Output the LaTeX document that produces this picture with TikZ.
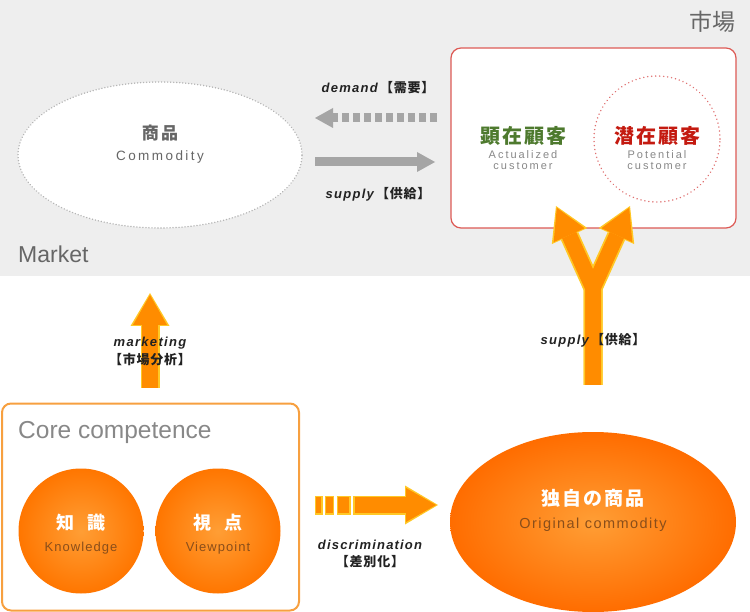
\documentclass[tikz,border=0pt]{standalone}
\usepackage{fontspec}
\setmainfont{Liberation Sans}
\newfontfamily\jp{Noto Sans CJK JP}
\usetikzlibrary{shapes.geometric,arrows.meta,positioning}

\definecolor{bggray}{HTML}{EEEEEE}
\definecolor{txtgray}{HTML}{666666}
\definecolor{lightgray}{HTML}{888888}
\definecolor{dotgray}{HTML}{B5B5B5}
\definecolor{arrgray}{HTML}{A5A5A5}
\definecolor{boxred}{HTML}{DD5A55}
\definecolor{dotred}{HTML}{E07070}
\definecolor{actgreen}{HTML}{4E7A2E}
\definecolor{potred}{HTML}{C41A10}
\definecolor{corebox}{HTML}{F7A040}
\definecolor{arrorange}{HTML}{FF8C00}
\definecolor{rimyellow}{HTML}{FFC826}
\definecolor{ballin}{HTML}{FF9E35}
\definecolor{ballout}{HTML}{FF7600}
\definecolor{engbrown}{HTML}{8A4E1A}
\definecolor{lbltext}{HTML}{222222}

\newcommand{\enjp}[2]{{\bfseries\itshape\addfontfeatures{LetterSpace=10}#1}\,{\jp\bfseries\fontsize{13}{13}\selectfont\addfontfeatures{LetterSpace=6}#2}}

\begin{document}
\begin{tikzpicture}[
    x=1pt, y=-1pt,
    zone/.style={font=\fontsize{23}{23}\selectfont, text=txtgray, inner sep=0pt},
    grayjp/.style={font=\jp\bfseries\fontsize{17}{17}\selectfont\addfontfeatures{LetterSpace=12}, text=txtgray, inner sep=0pt},
    grayen/.style={font=\fontsize{13.5}{13.5}\selectfont\addfontfeatures{LetterSpace=18}, text=txtgray, inner sep=0pt},
    custjp/.style={font=\jp\bfseries\fontsize{20}{20}\selectfont\addfontfeatures{LetterSpace=10}, inner sep=0pt},
    custen/.style={font=\fontsize{11}{10.5}\selectfont\addfontfeatures{LetterSpace=18}, text=lightgray, align=center, inner sep=0pt},
    whitejp/.style={font=\jp\bfseries\fontsize{18}{18}\selectfont\addfontfeatures{LetterSpace=10}, text=white, inner sep=0pt},
    brownen/.style={font=\fontsize{13}{13}\selectfont\addfontfeatures{LetterSpace=8}, text=engbrown, inner sep=0pt},
    lbl/.style={font=\fontsize{13}{13}\selectfont, text=lbltext, inner sep=0pt},
    lbljp/.style={font=\jp\bfseries\fontsize{13}{13}\selectfont\addfontfeatures{LetterSpace=6}, text=lbltext, inner sep=0pt},
    ball/.style={circle, minimum size=125pt, inner sep=0pt, shading=radial, inner color=ballin, outer color=ballout},
    graybar/.style={draw=arrgray, line width=9pt, -{Triangle[length=18pt,width=20pt,line width=0pt]}},
    rimarrow/.style={draw=rimyellow, line width=19pt, -{Triangle[length=33pt,width=39pt,line width=0pt]}},
    bodyarrow/.style={draw=arrorange, line width=15.5pt, shorten >=2pt, -{Triangle[length=30pt,width=34pt,line width=0pt]}}
]
\useasboundingbox (0,0) rectangle (750,612);

% Market zone
\fill[bggray] (0,0) rectangle (750,276);
\node[zone, font=\jp\fontsize{23}{23}\selectfont] (market_jp) at (712,22) {市場};
\node[zone, anchor=west] (market_en) at (18,254) {Market};

% Commodity
\node[ellipse, draw=dotgray, fill=white, line width=1.6pt, line cap=round, dash pattern=on 0.01pt off 3pt,
      minimum width=284pt, minimum height=146pt] (commodity) at (160,155) {};
\node[grayjp] (commodity_jp) at (160,133) {商品};
\node[grayen, below=9pt of commodity_jp] (commodity_en) {Commodity};

% Customers
\node[rectangle, draw=boxred, fill=white, line width=1.2pt, rounded corners=10pt,
      minimum width=285pt, minimum height=180pt] (customers) at (593.5,138) {};
\node[circle, draw=dotred, line width=1.6pt, line cap=round, dash pattern=on 0.01pt off 4pt,
      minimum size=126pt] (potential) at (657,139) {};
\node[custjp, text=actgreen] (actual_jp) at (523,136) {顕在顧客};
\node[custen, below=5pt of actual_jp] (actual_en) {Actualized\\customer};
\node[custjp, text=potred] (potential_jp) at (657,136) {潜在顧客};
\node[custen, below=5pt of potential_jp] (potential_en) {Potential\\customer};

% demand / supply
\coordinate (dem_from) at (437,118);
\coordinate (dem_to) at (315,118);
\coordinate (sup_from) at (315,162);
\coordinate (sup_to) at (435,162);
\draw[graybar, dash pattern=on 7pt off 4pt] (dem_from) -- (dem_to);
\draw[graybar] (sup_from) -- (sup_to);
\node[lbl] (dem_lbl) at (378,88) {\enjp{demand}{【需要】}};
\node[lbl] (sup_lbl) at (378,194) {\enjp{supply}{【供給】}};

% Core competence
\node[rectangle, draw=corebox, fill=white, line width=2pt, rounded corners=9pt,
      minimum width=297pt, minimum height=207pt] (core) at (150.5,507) {};
\node[zone, font=\fontsize{24.5}{24.5}\selectfont, text=lightgray, anchor=west] (core_title) at (18,432) {Core competence};
\node[ball] (knowledge) at (81,531) {};
\node[ball] (viewpoint) at (218,531) {};
\node[whitejp] (knowledge_jp) at (81,523) {知\hspace{14pt}識};
\node[brownen, below=10pt of knowledge_jp] (knowledge_en) {Knowledge};
\node[whitejp] (viewpoint_jp) at (218,523) {視\hspace{14pt}点};
\node[brownen, below=10pt of viewpoint_jp] (viewpoint_en) {Viewpoint};

% Original commodity
\node[ellipse, minimum width=286pt, minimum height=180pt, inner sep=0pt,
      shading=radial, inner color=ballin, outer color=ballout!92!red] (original) at (593,522) {};
\node[whitejp, font=\jp\bfseries\fontsize{19}{19}\selectfont\addfontfeatures{LetterSpace=10}] (original_jp) at (593,498) {独自の商品};
\node[brownen, font=\fontsize{14.5}{14.5}\selectfont\addfontfeatures{LetterSpace=10}, below=11pt of original_jp] (original_en) {Original commodity};

% marketing arrow
\coordinate (mkt_from) at (150,388);
\coordinate (mkt_to) at (150,293);
\draw[rimarrow] (mkt_from) -- (mkt_to);
\draw[bodyarrow] (mkt_from) -- (mkt_to);
\node[lbl] (mkt_lbl) at (150,343) {\bfseries\itshape\addfontfeatures{LetterSpace=10}marketing};
\node[lbljp, below=4pt of mkt_lbl] (mkt_lbl_jp) {【市場分析】};

% supply fork
\coordinate (y_from) at (593,385);
\coordinate (y_fork) at (593,288);
\coordinate (y_left) at (556,206);
\coordinate (y_right) at (630,206);
\draw[rimarrow] (y_from) -- (y_fork) -- (y_left);
\draw[rimarrow] (y_from) -- (y_fork) -- (y_right);
\draw[bodyarrow] (y_from) -- (y_fork) -- (y_left);
\draw[bodyarrow] (y_from) -- (y_fork) -- (y_right);
\node[lbl] (ysup_lbl) at (593,340) {\enjp{supply}{【供給】}};

% discrimination arrow
\coordinate (dis_from) at (315,505);
\coordinate (dis_to) at (438,505);
\draw[rimarrow, dash pattern=on 7.7pt off 2.3pt on 9.3pt off 2.4pt on 14pt off 2.6pt on 300pt off 1pt] (dis_from) -- (dis_to);
\draw[bodyarrow, shorten <=1.3pt, dash pattern=on 5.1pt off 4.9pt on 6.7pt off 5pt on 11.4pt off 5.2pt on 300pt off 1pt] (dis_from) -- (dis_to);
\node[lbl] (dis_lbl) at (370,545) {\bfseries\itshape\addfontfeatures{LetterSpace=9}discrimination};
\node[lbljp, below=5pt of dis_lbl] (dis_lbl_jp) {【差別化】};

\end{tikzpicture}
\end{document}
